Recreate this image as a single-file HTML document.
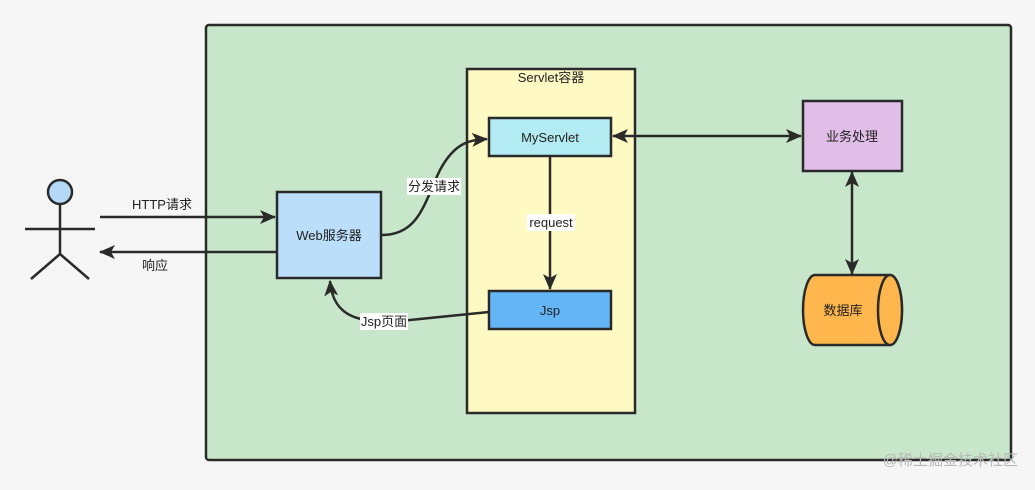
<!DOCTYPE html>
<html><head><meta charset="utf-8"><style>
body{margin:0;background:#f6f6f6;}
svg text{font-family:"Liberation Sans","Noto Sans CJK SC",sans-serif;font-size:13px;fill:#222;}
</style></head><body>
<svg width="1035" height="485" viewBox="0 0 1035 485" xmlns="http://www.w3.org/2000/svg">
<defs>
<marker id="a" markerWidth="16" markerHeight="14" refX="15" refY="7" orient="auto" markerUnits="userSpaceOnUse"><path d="M0,0 L16,7 L0,14 L4,7 z" fill="#2a2a2a"/></marker>
<marker id="as" markerWidth="16" markerHeight="14" refX="1" refY="7" orient="auto" markerUnits="userSpaceOnUse"><path d="M16,0 L0,7 L16,14 L12,7 z" fill="#2a2a2a"/></marker>
</defs>
<rect width="1035" height="485" fill="#f6f6f6"/>
<rect x="206" y="25" width="805" height="435" rx="3" fill="#c8e6c9" stroke="#2a2a2a" stroke-width="2.5"/>
<rect x="467" y="69" width="168" height="344" fill="#fff9c4" stroke="#2a2a2a" stroke-width="2.5"/>
<text x="551" y="82" text-anchor="middle">Servlet容器</text>
<g stroke="#2a2a2a" stroke-width="2.5" fill="none">
<circle cx="60" cy="192" r="12" fill="#b3d9f7"/>
<line x1="60" y1="204" x2="60" y2="254"/>
<line x1="25" y1="229" x2="95" y2="229"/>
<line x1="60" y1="254" x2="31" y2="279"/>
<line x1="60" y1="254" x2="89" y2="279"/>
</g>
<g stroke="#2a2a2a" stroke-width="2.5" fill="none">
<line x1="100" y1="217" x2="275" y2="217" marker-end="url(#a)"/>
<line x1="276" y1="252" x2="100" y2="252" marker-end="url(#a)"/>
<path d="M382,235 C420,235 425,200 440,170 C455,142 470,140 487,139" marker-end="url(#a)"/>
<path d="M489,312 L410,320 C360,325 333,318 330,281" marker-end="url(#a)"/>
<line x1="550" y1="157" x2="550" y2="289" marker-end="url(#a)"/>
<line x1="613" y1="136" x2="801" y2="136" marker-start="url(#as)" marker-end="url(#a)"/>
<line x1="852" y1="172" x2="852" y2="274" marker-start="url(#as)" marker-end="url(#a)"/>
</g>
<rect x="277" y="192" width="104" height="86" fill="#bbdefb" stroke="#2a2a2a" stroke-width="2.5"/>
<text x="329" y="240" text-anchor="middle">Web服务器</text>
<rect x="489" y="118" width="122" height="38" fill="#b2ebf2" stroke="#2a2a2a" stroke-width="2.5"/>
<text x="550" y="142" text-anchor="middle">MyServlet</text>
<rect x="489" y="291" width="122" height="38" fill="#64b5f6" stroke="#2a2a2a" stroke-width="2.5"/>
<text x="550" y="315" text-anchor="middle">Jsp</text>
<rect x="803" y="101" width="99" height="70" fill="#e1bee7" stroke="#2a2a2a" stroke-width="2.5"/>
<text x="852" y="141" text-anchor="middle">业务处理</text>
<path d="M815,275 L890,275 A12,35 0 0 1 890,345 L815,345 A12,35 0 0 1 815,275 z" fill="#ffb74d" stroke="#2a2a2a" stroke-width="2.5"/>
<ellipse cx="890" cy="310" rx="12" ry="35" fill="#ffb74d" stroke="#2a2a2a" stroke-width="2.5"/>
<text x="843" y="315" text-anchor="middle">数据库</text>
<text x="162" y="209" text-anchor="middle">HTTP请求</text>
<text x="155" y="270" text-anchor="middle">响应</text>
<rect x="407" y="178" width="54" height="17" fill="#fff"/>
<text x="434" y="191" text-anchor="middle">分发请求</text>
<rect x="527" y="214" width="48" height="17" fill="#fff"/>
<text x="551" y="227" text-anchor="middle">request</text>
<rect x="360" y="313" width="48" height="17" fill="#fff"/>
<text x="384" y="326" text-anchor="middle">Jsp页面</text>
<text x="1018" y="465" text-anchor="end" style="font-size:15px;fill:#b8b8b8">@稀土掘金技术社区</text>
</svg>
</body></html>
